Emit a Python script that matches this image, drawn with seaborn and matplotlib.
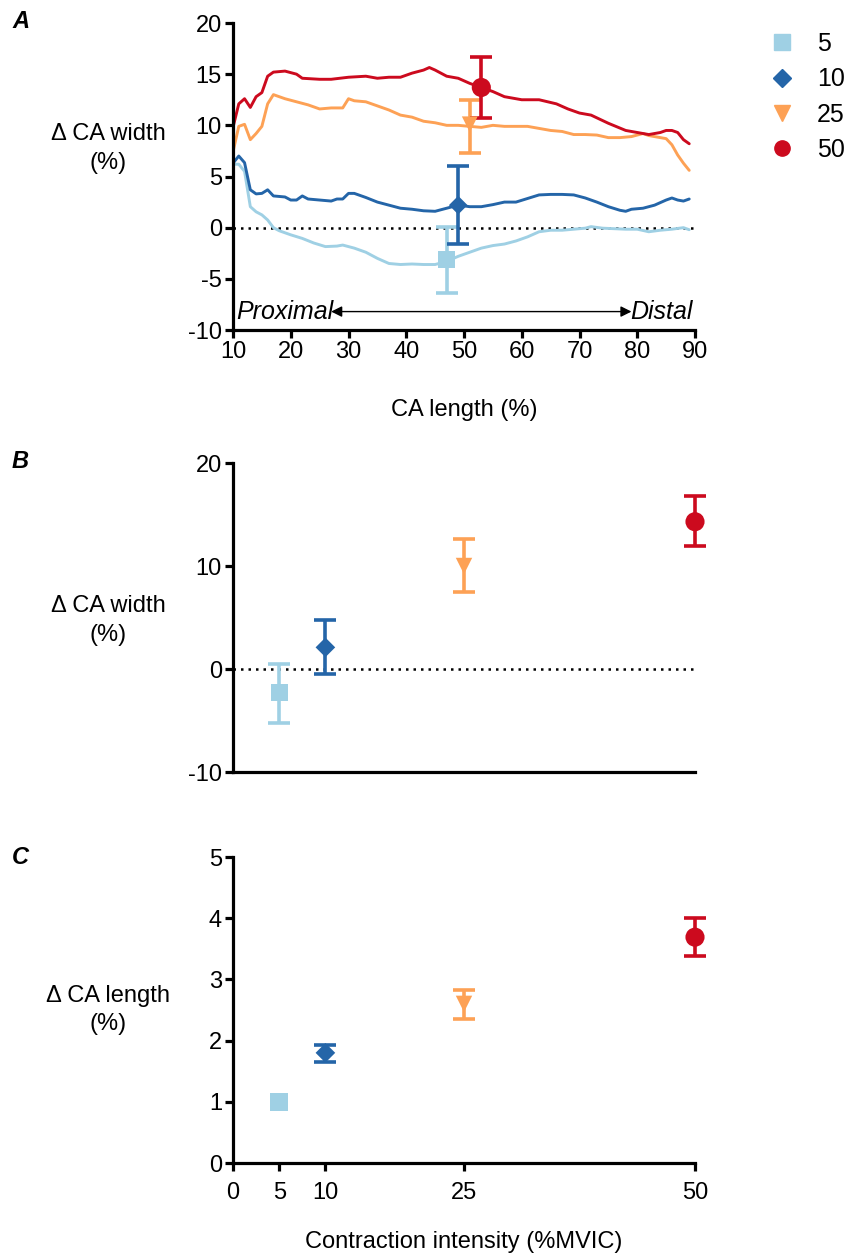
import numpy as np
import matplotlib
matplotlib.use("Agg")
import matplotlib.pyplot as plt
from matplotlib.lines import Line2D
import seaborn as sns

sns.set_style("ticks")
plt.rcParams['font.family'] = ['Liberation Sans', 'DejaVu Sans']
plt.rcParams.update({'text.color': 'black', 'axes.labelcolor': 'black',
                     'xtick.color': 'black', 'ytick.color': 'black',
                     'axes.edgecolor': 'black', 'axes.unicode_minus': False})

# intensities (%MVIC) and their styles
intensity = [5, 10, 25, 50]
labels = ['5', '10', '25', '50']
colors = ['#9fd0e4', '#2465a8', '#fda155', '#cc0a1e']
markers = ['s', 'D', 'v', 'o']

# panel A: width change along the CA length
x5 = [10, 11, 12, 13, 14, 15, 16, 17, 18, 20, 22, 24, 26, 28, 29, 31, 33, 35, 37, 39,
      41, 43, 45, 47, 49, 51, 53, 55, 57, 59, 61, 63, 65, 67, 69, 71, 72, 74, 76, 78,
      80, 82, 84, 86, 88, 89]
y5 = [6.2, 6.2, 5.5, 2.05, 1.55, 1.25, 0.75, 0.0, -0.3, -0.7, -1.05, -1.5, -1.85, -1.8, -1.7,
      -2.0, -2.4, -3.0, -3.5, -3.6, -3.55, -3.6, -3.6, -3.3, -2.8, -2.4, -2.0, -1.75, -1.6, -1.3,
      -0.9, -0.4, -0.25, -0.25, -0.15, -0.05, 0.1, -0.05, -0.1, -0.15, -0.15, -0.4, -0.25, -0.15,
      0.0, -0.2]
x10 = [10, 11, 12, 13, 14, 15, 16, 17, 19, 20, 21, 22, 23, 25, 27, 28, 29, 30, 31, 33,
       35, 37, 39, 41, 43, 45, 47, 49, 51, 53, 55, 57, 59, 61, 63, 65, 67, 69, 71, 73,
       75, 77, 78, 79, 81, 83, 85, 86, 87, 88, 89]
y10 = [6.3, 7.0, 6.35, 3.7, 3.3, 3.35, 3.7, 3.1, 3.0, 2.7, 2.7, 3.1, 2.8, 2.7, 2.6, 2.8, 2.8,
       3.35, 3.35, 2.95, 2.5, 2.2, 1.9, 1.8, 1.65, 1.6, 1.9, 2.2, 2.05, 2.05, 2.25, 2.5, 2.5,
       2.85, 3.2, 3.25, 3.25, 3.2, 2.9, 2.5, 2.05, 1.7, 1.6, 1.8, 1.9, 2.2, 2.7, 2.9, 2.7, 2.6, 2.8]
x25 = [10, 11, 12, 13, 14, 15, 16, 17, 19, 21, 23, 25, 27, 29, 30, 31, 33, 35, 37, 39,
       41, 43, 45, 47, 49, 51, 53, 55, 57, 59, 61, 63, 65, 67, 69, 71, 73, 75, 77, 79,
       81, 82, 84, 85, 86, 87, 88, 89]
y25 = [7.4, 9.9, 10.1, 8.6, 9.2, 9.9, 12.1, 13.0, 12.6, 12.3, 12.0, 11.6, 11.7, 11.7, 12.6,
       12.4, 12.3, 11.9, 11.5, 11.0, 10.8, 10.4, 10.25, 10.0, 10.0, 9.9, 9.8, 10.0, 9.9, 9.9,
       9.9, 9.7, 9.5, 9.4, 9.1, 9.1, 9.05, 8.8, 8.8, 8.9, 9.2, 9.0, 8.8, 8.7, 8.1, 7.1, 6.3, 5.6]
x50 = [10, 11, 12, 13, 14, 15, 16, 17, 19, 21, 22, 25, 27, 30, 33, 35, 37, 39, 41, 43,
       44, 45, 47, 49, 51, 53, 55, 57, 60, 63, 66, 68, 70, 72, 75, 78, 80, 82, 84, 85,
       86, 87, 88, 89]
y50 = [9.8, 12.1, 12.6, 11.75, 12.8, 13.2, 14.8, 15.2, 15.3, 15.0, 14.6, 14.5, 14.5, 14.7,
       14.8, 14.6, 14.7, 14.7, 15.1, 15.4, 15.65, 15.4, 14.8, 14.6, 14.1, 13.7, 13.3, 12.8,
       12.5, 12.5, 12.1, 11.6, 11.2, 11.0, 10.2, 9.5, 9.3, 9.1, 9.3, 9.5, 9.5, 9.3, 8.6, 8.2]
profiles_x = [x5, x10, x25, x50]
profiles_y = [y5, y10, y25, y50]

# panel A summary points (placed near mid length)
a_pos = [47, 49, 51, 53]
a_mean = [-3.1, 2.2, 10.1, 13.7]
a_lo = [-6.4, -1.6, 7.25, 10.7]
a_hi = [0.1, 6.0, 12.5, 16.7]

# panel B: mean width change
b_mean = [-2.3, 2.1, 10.0, 14.3]
b_lo = [-5.2, -0.5, 7.5, 11.9]
b_hi = [0.5, 4.8, 12.6, 16.8]

# panel C: mean length change
c_mean = [1.0, 1.8, 2.6, 3.69]
c_lo = [1.0, 1.65, 2.35, 3.38]
c_hi = [1.0, 1.93, 2.82, 4.01]

W, H = 848, 1255
fig = plt.figure(figsize=(W / 100, H / 100), dpi=100)


def frac(left, top, right, bottom):
    return [left / W, 1 - bottom / H, (right - left) / W, (bottom - top) / H]


axA = fig.add_axes(frac(233, 23, 695, 330))
axB = fig.add_axes(frac(233, 463, 695, 772))
axC = fig.add_axes(frac(233, 857, 695, 1163))

FS = 17
LW = 2.3


def style(ax):
    sns.despine(ax=ax)
    for s in ['left', 'bottom']:
        ax.spines[s].set_linewidth(LW)
    ax.tick_params(width=LW, length=6, labelsize=FS, direction='out', pad=2)


def summary(ax, xs, mean, lo, hi, msizes):
    for i in range(4):
        if hi[i] > lo[i]:
            ax.errorbar(xs[i], mean[i], yerr=[[mean[i] - lo[i]], [hi[i] - mean[i]]],
                        fmt='none', ecolor=colors[i], elinewidth=2.6, capsize=8,
                        capthick=2.6, clip_on=False, zorder=3)
        sns.scatterplot(x=[xs[i]], y=[mean[i]], marker=markers[i], color=colors[i],
                        s=msizes[i], edgecolor='none', ax=ax, zorder=4, clip_on=False)


# ---- A
for i in range(4):
    sns.lineplot(x=profiles_x[i], y=profiles_y[i], color=colors[i], linewidth=2.1,
                 ax=axA, zorder=2)
axA.axhline(0, color='black', linestyle=(0, (1, 2)), linewidth=1.8, zorder=1)
summary(axA, a_pos, a_mean, a_lo, a_hi, [140, 90, 130, 190])
axA.set_xlim(10, 90)
axA.set_ylim(-10, 20)
axA.set_xticks(range(10, 91, 10))
axA.set_yticks(range(-10, 21, 5))
style(axA)
axA.set_xlabel('CA length (%)', fontsize=FS, labelpad=26)
axA.set_ylabel('Δ CA width\n(%)', fontsize=FS, rotation=0, ha='center', va='center',
               linespacing=1.4)
axA.yaxis.set_label_coords(-0.27, 0.59)
axA.annotate('', xy=(27, -8.2), xytext=(79, -8.2),
             arrowprops=dict(arrowstyle='<|-|>', color='black', lw=1.0,
                             mutation_scale=16, shrinkA=0, shrinkB=0))
axA.text(10.6, -8.2, 'Proximal', fontsize=FS + 1, style='italic', va='center', ha='left')
axA.text(89.5, -8.2, 'Distal', fontsize=FS + 1, style='italic', va='center', ha='right')

# ---- B
axB.axhline(0, color='black', linestyle=(0, (1, 2)), linewidth=1.8, zorder=1)
summary(axB, intensity, b_mean, b_lo, b_hi, [150, 100, 140, 190])
axB.set_xlim(0, 50)
axB.set_ylim(-10, 20)
axB.set_yticks([-10, 0, 10, 20])
axB.set_xticks([])
style(axB)
axB.set_ylabel('Δ CA width\n(%)', fontsize=FS, rotation=0, ha='center', va='center',
               linespacing=1.4)
axB.yaxis.set_label_coords(-0.27, 0.49)

# ---- C
summary(axC, intensity, c_mean, c_lo, c_hi, [170, 100, 140, 190])
axC.set_xlim(0, 50)
axC.set_ylim(0, 5)
axC.set_xticks([0, 5, 10, 25, 50])
axC.set_yticks(range(0, 6))
style(axC)
axC.tick_params(axis='x', pad=8)
axC.set_xlabel('Contraction intensity (%MVIC)', fontsize=FS, labelpad=19)
axC.set_ylabel('Δ CA length\n(%)', fontsize=FS, rotation=0, ha='center', va='center',
               linespacing=1.4)
axC.yaxis.set_label_coords(-0.27, 0.5)

# panel letters
for lab, y in [('A', 22), ('B', 462), ('C', 857)]:
    fig.text(12 / W, 1 - y / H, lab, fontsize=FS, fontweight='bold', style='italic',
             va='center', ha='left')

# legend
handles = [Line2D([], [], linestyle='none', marker=markers[i], color=colors[i],
                  markersize=11 if markers[i] != 'D' else 9) for i in range(4)]
fig.legend(handles, labels, loc='upper left', bbox_to_anchor=(767 / W, 1 - 32 / H),
           frameon=False, fontsize=18, handletextpad=0.8, labelspacing=0.45,
           handlelength=1.2, borderpad=0, borderaxespad=0)

fig.savefig('out.png', dpi=100)
